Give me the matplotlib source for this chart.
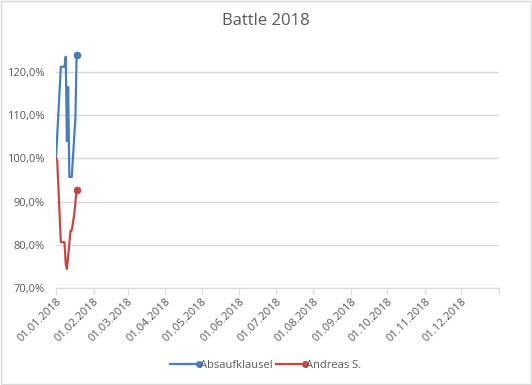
import matplotlib
matplotlib.use("Agg")
import matplotlib.pyplot as plt
import matplotlib.dates as mdates
from matplotlib.ticker import FuncFormatter, MultipleLocator
from matplotlib.legend_handler import HandlerLine2D
from matplotlib.lines import Line2D
from datetime import datetime

# data
blue_dates = ["2018-01-01", "2018-01-05", "2018-01-08", "2018-01-09", "2018-01-10",
              "2018-01-11", "2018-01-12", "2018-01-14", "2018-01-17", "2018-01-18"]
blue_values = [1.000, 1.212, 1.212, 1.235, 1.040, 1.165, 0.957, 0.957, 1.095, 1.240]

red_dates = ["2018-01-01", "2018-01-02", "2018-01-05", "2018-01-08", "2018-01-09",
             "2018-01-10", "2018-01-13", "2018-01-14", "2018-01-16", "2018-01-18"]
red_values = [1.000, 0.995, 0.806, 0.806, 0.757, 0.744, 0.833, 0.833, 0.870, 0.926]

series_names = ["Absaufklausel", "Andreas S."]
series_colors = ["#4A7EBB", "#BE4B48"]
title = "Battle 2018"

TXT = "#595959"
GRID = "#D9D9D9"
plt.rcParams["font.family"] = ["Open Sans", "DejaVu Sans"]

fig = plt.figure(figsize=(5.32, 3.85), dpi=100)
ax = fig.add_axes([56 / 532, 1 - 288 / 385, (499 - 56) / 532, (288 - 46) / 385])

to_dt = lambda ds: [datetime.strptime(d, "%Y-%m-%d") for d in ds]
lines = []
for dates, vals, col, name in zip([blue_dates, red_dates], [blue_values, red_values],
                                  series_colors, series_names):
    ln, = ax.plot(to_dt(dates), vals, color=col, lw=1.6, label=name,
                  marker="o", markersize=4.5, markevery=[len(vals) - 1],
                  solid_joinstyle="round")
    lines.append(ln)

ax.set_xlim(datetime(2018, 1, 1), datetime(2019, 1, 1))
ax.set_ylim(0.70, 1.26)
ax.yaxis.set_major_locator(MultipleLocator(0.10))
ax.yaxis.set_major_formatter(FuncFormatter(lambda v, p: f"{v * 100:.1f}%".replace(".", ",")))
ax.xaxis.set_major_locator(mdates.MonthLocator())
ax.xaxis.set_major_formatter(mdates.DateFormatter("%d.%m.%Y"))

ax.grid(axis="y", color=GRID, lw=1)
ax.set_axisbelow(True)
for s in ["top", "right", "left"]:
    ax.spines[s].set_visible(False)
ax.spines["bottom"].set_color(GRID)
ax.tick_params(axis="y", length=0, colors=TXT, labelsize=8, pad=8)
ax.tick_params(axis="x", length=4, color=GRID, colors=TXT, labelsize=8, pad=2)
ax.set_xticks(ax.get_xticks())
ax.set_xticklabels([l.get_text() for l in ax.get_xticklabels()][:12] + [""], rotation=45,
                   ha="right", rotation_mode="anchor")

fig.suptitle(title, x=0.5, y=0.965, fontsize=12, color=TXT)


class EndDotHandler(HandlerLine2D):
    def create_artists(self, legend, orig_handle, xdescent, ydescent, width, height, fontsize, trans):
        y = (height - ydescent) / 2
        ln = Line2D([-xdescent, -xdescent + width], [y, y], color=orig_handle.get_color(), lw=1.6)
        dot = Line2D([-xdescent + width], [y], color=orig_handle.get_color(), marker="o",
                     markersize=4, lw=0)
        ln.set_transform(trans)
        dot.set_transform(trans)
        return [ln, dot]


fig.legend(lines, series_names, loc="center", bbox_to_anchor=(0.5, 1 - 365 / 385), ncol=2,
           frameon=False, fontsize=8, labelcolor=TXT, handlelength=2.6, handletextpad=0.1,
           columnspacing=0.3, handler_map={Line2D: EndDotHandler()})

fig.patches.append(plt.Rectangle((0.002, 0.002), 0.996, 0.996, transform=fig.transFigure,
                                 fill=False, edgecolor=GRID, lw=1))
fig.savefig("out.png", dpi=100)
